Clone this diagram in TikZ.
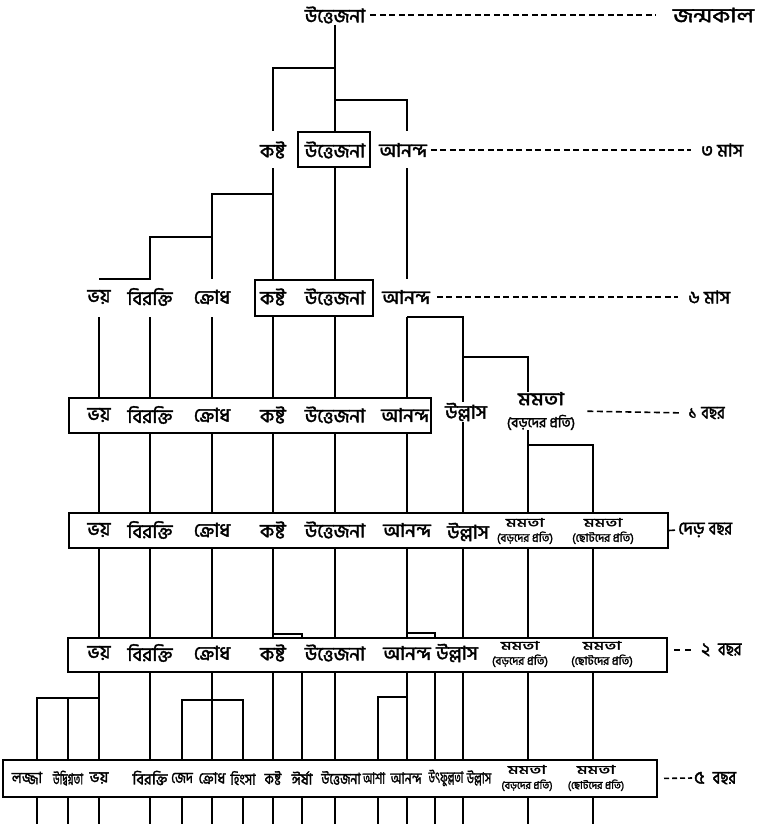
\documentclass[tikz,border=0pt]{standalone}
\usepackage{fontspec}
\newfontfamily\bn[Script=Bengali, BoldFont={Hind Siliguri}, BoldFeatures={FakeBold=2}]{Hind Siliguri}
\usetikzlibrary{positioning, calc}

\tikzset{
    % emotion labels
    emo/.style={font=\bn\bfseries\fontsize{19}{21}\selectfont, inner sep=1pt},
    emotight/.style={font=\bn\bfseries\fontsize{15.5}{18}\selectfont, inner sep=0pt},
    % two-line affection labels
    mamata/.style={align=center, inner sep=0pt, font=\bn\bfseries\fontsize{12}{15}\selectfont},
    mamatabig/.style={align=center, inner sep=0pt, font=\bn\bfseries\fontsize{18}{22}\selectfont},
    % age stage boxes
    stagebox/.style={draw, line width=2pt, inner sep=0pt},
    % branch lines
    stem/.style={line width=2.6pt},
    % age labels on the right
    agelbl/.style={font=\bn\bfseries\fontsize{18}{20}\selectfont, inner sep=1pt, anchor=west},
    agedash/.style={line width=1.6pt, dash pattern=on 6pt off 3.5pt},
}
\newcommand{\subl}[2][11.5]{{\fontsize{#1}{#1}\selectfont (#2)}}
\newcommand{\nrw}[2][0.9]{\scalebox{#1}[1]{#2}}
\newcommand{\bochor}{\nrw[0.8]{বছর}}

\begin{document}
\begin{tikzpicture}[x=1pt, y=-1pt]
\useasboundingbox (0,0) rectangle (772,824);

% columns and rows
\foreach \n/\x in {lj/37, ud/68, bh/99, br/150, jd/182, kr/212, hg/243, ks/273,
    ir/302, ut/335, ash/378, an/407, uf/435, ul/463, mb/528, mc/593}
    \coordinate (\n) at (\x,0);
\foreach \r/\y in {0/15, 1/150, 2/297, 3/415, 4/530, 5/653, 6/778}
    \coordinate (r\r) at (0,\y);

% Birth
\node[emo] (ut0) at (ut |- r0) {উত্তেজনা};
\node[agelbl, font=\bn\bfseries\fontsize{20}{23}\selectfont] (a0) at (672,15) {\nrw[1.2]{জন্মকাল}};

% 3 months
\node[stagebox, minimum width=72pt, minimum height=35pt] (b1) at (334,149.5) {};
\node[emo] (ks1) at (ks |- r1) {কষ্ট};
\node[emo] (ut1) at (ut |- r1) {উত্তেজনা};
\node[emo] (an1) at (403,150) {আনন্দ};
\node[agelbl] (a1) at (700,150) {৩ মাস};

% 6 months
\node[stagebox, minimum width=118pt, minimum height=36pt] (b2) at (314,298) {};
\foreach \n/\t in {bh/ভয়, br/বিরক্তি, kr/ক্রোধ, ks/কষ্ট, ut/উত্তেজনা}
    \node[emo] (\n2) at (\n |- r2) {\t};
\node[emo] (an2) at (406,297) {আনন্দ};
\node[agelbl] (a2) at (687,297) {৬ মাস};

% 1 year
\node[stagebox, minimum width=362pt, minimum height=35pt] (b3) at (250,415.5) {};
\foreach \n/\t in {bh/ভয়, br/বিরক্তি, kr/ক্রোধ, ks/কষ্ট, ut/উত্তেজনা}
    \node[emo] (\n3) at (\n |- r3) {\t};
\node[emo] (an3) at (405,415) {আনন্দ};
\node[emo] (ul3) at (466,412) {উল্লাস};
\node[mamatabig] (mb3) at (541,411) {\scalebox{1.2}[1]{মমতা}\\\subl[14]{বড়দের প্রতি}};
\node[agelbl] (a3) at (687,413) {১ \bochor};

% 1.5 years
\node[stagebox, minimum width=599pt, minimum height=35pt] (b4) at (368.5,530.5) {};
\foreach \n/\t in {bh/ভয়, br/বিরক্তি, kr/ক্রোধ, ks/কষ্ট, ut/উত্তেজনা, an/আনন্দ}
    \node[emo] (\n4) at (\n |- r4) {\t};
\node[emo] (ul4) at (468,532) {উল্লাস};
\node[mamata] (mb4) at (525,531) {\scalebox{1.5}[1]{মমতা}\\\subl{বড়দের প্রতি}};
\node[mamata] (mc4) at (603,531) {\scalebox{1.5}[1]{মমতা}\\\subl{ছোটদের প্রতি}};
\node[agelbl] (a4) at (677,530) {দেড় \bochor};

% 2 years
\node[stagebox, minimum width=599pt, minimum height=34pt] (b5) at (367.5,655) {};
\foreach \n/\t in {bh/ভয়, br/বিরক্তি, kr/ক্রোধ, ks/কষ্ট, ut/উত্তেজনা, an/আনন্দ}
    \node[emo] (\n5) at (\n |- r5) {\t};
\node[emo] (ul5) at (457,653) {উল্লাস};
\node[mamata] (mb5) at (520,654) {\scalebox{1.5}[1]{মমতা}\\\subl{বড়দের প্রতি}};
\node[mamata] (mc5) at (602,654) {\scalebox{1.5}[1]{মমতা}\\\subl{ছোটদের প্রতি}};
\node[agelbl] (a5) at (700,650) {২~~\bochor};

% 5 years
\node[stagebox, minimum width=654pt, minimum height=37pt] (b6) at (330,778.5) {};
\foreach \n/\s/\t in {ud/0.66/উদ্বিগ্নতা, bh/1/ভয়, br/0.95/বিরক্তি, jd/0.85/জেদ,
    kr/0.9/ক্রোধ, hg/0.82/হিংসা, ks/0.8/কষ্ট, ir/0.9/ঈর্ষা}
    \node[emotight] (\n6) at (\n |- r6) {\nrw[\s]{\t}};
\node[emotight] (lj6) at (27,778) {\nrw[0.88]{লজ্জা}};
\node[emotight] (ut6) at (341,778) {\nrw[0.8]{উত্তেজনা}};
\node[emotight] (ash6) at (374,778) {\nrw[0.68]{আশা}};
\node[emotight] (an6) at (406,778) {\nrw[0.8]{আনন্দ}};
\node[emotight] (uf6) at (446,778) {\nrw[0.62]{উৎফুল্লতা}};
\node[emotight] (ul6) at (479,778) {\nrw[0.72]{উল্লাস}};
\node[mamata] (mb6) at (527,778) {\scalebox{1.5}[1]{মমতা}\\\subl[10.5]{বড়দের প্রতি}};
\node[mamata] (mc6) at (596,778) {\scalebox{1.5}[1]{মমতা}\\\subl[10.5]{ছোটদের প্রতি}};
\node[agelbl] (a6) at (693,778) {৫~~\bochor};

% Dashes to the age labels
\draw[agedash, shorten <=4pt, shorten >=16pt] (ut0.east) -- (a0.west);
\draw[agedash, shorten <=3pt, shorten >=9pt] (an1.east) -- (a1.west);
\draw[agedash, shorten <=6pt, shorten >=9pt] (an2.east) -- (a2.west);
\draw[agedash, shorten <=12pt, shorten >=7pt] (mb3.east) -- (a3.west);
\draw[stem, line width=1.6pt, shorten >=2pt] (b4.east) -- (a4.west);
\draw[agedash, dash pattern=on 6pt off 5pt, shorten <=6pt, shorten >=8pt] (b5.east |- a5.west) -- (a5.west);
\draw[agedash, dash pattern=on 5pt off 3pt, shorten <=6pt, shorten >=1pt] (b6.east) -- (a6.west);

% Birth -> 3 months
\draw[stem] (ut0.south) -- (ut |- b1.north);
\draw[stem] (ut |- 0,68) -| (ks |- b1.north);
\draw[stem] (ut |- 0,100) -| (an |- b1.north);

% 3 -> 6 months
\draw[stem] (ut |- b1.south) -- (ut |- b2.north);
\draw[stem] (ks |- b1.south) -- (ks |- b2.north);
\draw[stem] (ks |- 0,194) -| (kr |- b2.north);
\draw[stem] (kr |- 0,237) -| (br |- b2.north) -- (bh |- b2.north);
\draw[stem] (an |- b1.south) -- (an |- b2.north);

% 6 months -> 1 year
\foreach \n in {bh, br, kr, ks, ut, an}
    \draw[stem] (\n |- b2.south) -- (\n |- b3.north);
\draw[stem] (an |- b2.south) -| (ul |- ul3.north);
\draw[stem] (ul |- 0,357) -| (mb |- mb3.north);

% 1 year -> 1.5 years
\foreach \n in {bh, br, kr, ks, ut, an}
    \draw[stem] (\n |- b3.south) -- (\n |- b4.north);
\draw[stem] (ul |- ul3.south) -- (ul |- b4.north);
\draw[stem] (mb |- mb3.south) -- (mb |- b4.north);
\draw[stem] (mb |- 0,445) -| (mc |- b4.north);

% 1.5 -> 2 years
\foreach \n in {bh, br, kr, ks, ut, an, ul, mb, mc}
    \draw[stem] (\n |- b4.south) -- (\n |- b5.north);
\draw[stem] (ks |- 0,634) -| (ir |- b5.north);
\draw[stem] (an |- 0,633) -| (uf |- b5.north);

% 2 -> 5 years
\foreach \n in {bh, br, kr, ks, ir, ut, an, uf, ul, mb, mc}
    \draw[stem] (\n |- b5.south) -- (\n |- b6.north);
\draw[stem] (bh |- 0,698) -| (lj |- b6.north);
\draw[stem] (ud |- 0,698) -- (ud |- b6.north);
\draw[stem] (jd |- b6.north) |- (hg |- 0,700) -- (hg |- b6.north);
\draw[stem] (an |- 0,697) -| (ash |- b6.north);

% Below 5 years
\foreach \n in {lj, ud, bh, br, jd, kr, hg, ks, ir, ut, ash, an, uf, ul, mb, mc}
    \draw[stem] (\n |- b6.south) -- (\n |- 0,824);
\end{tikzpicture}
\end{document}
